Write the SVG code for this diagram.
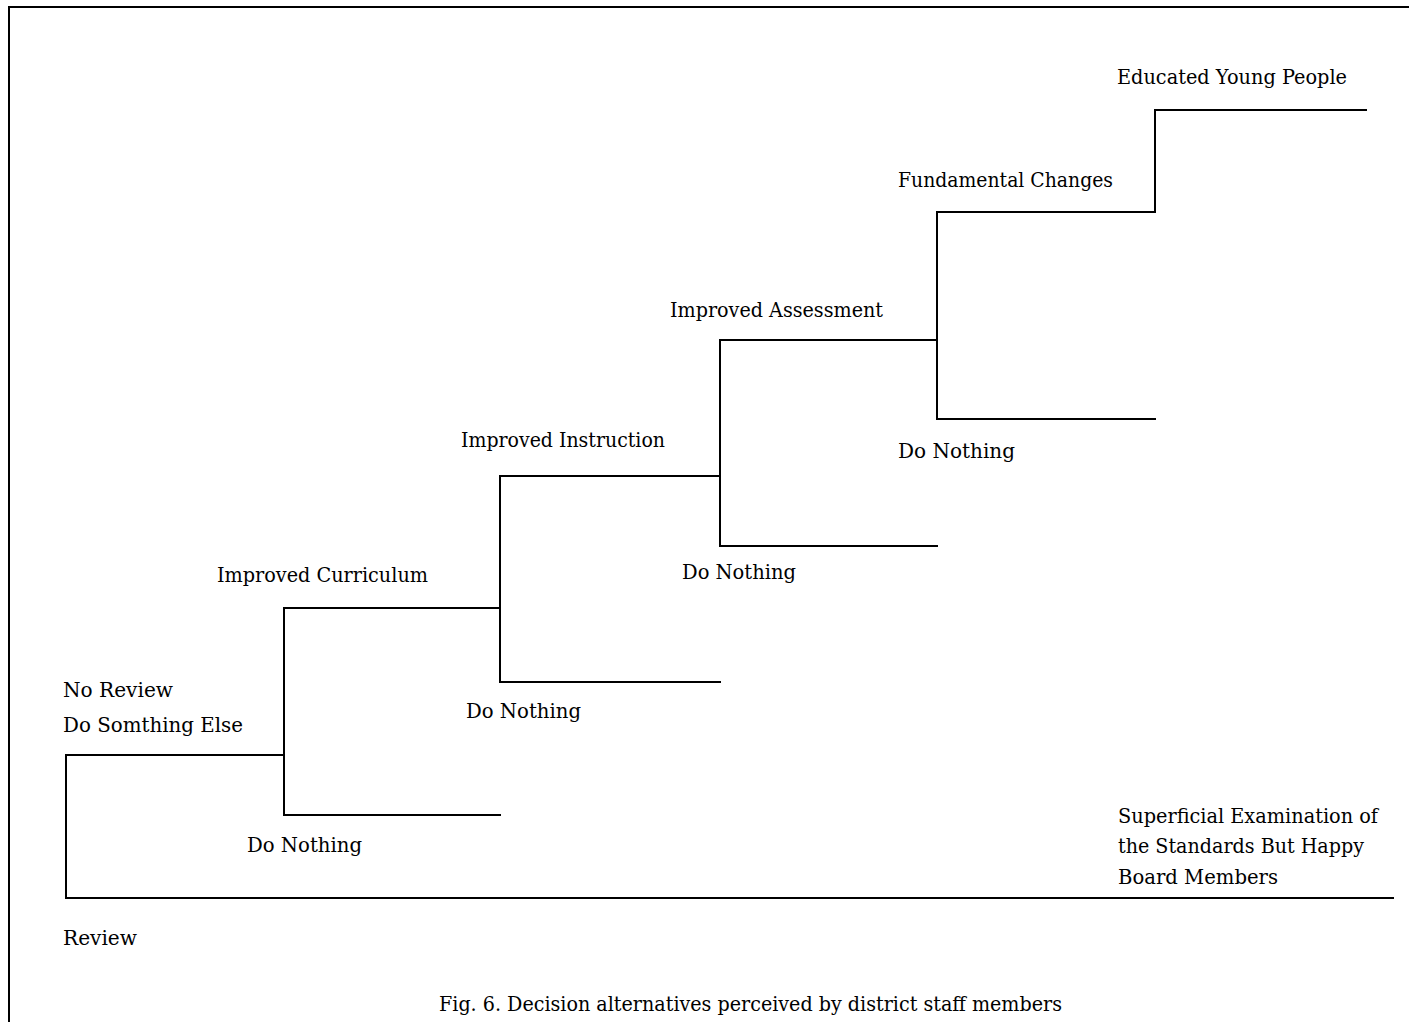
<svg xmlns="http://www.w3.org/2000/svg" width="1409" height="1022" viewBox="0 0 1409 1022">
  <style>
    .frame { fill: none; stroke: #000; stroke-width: 2; }
    .edge { fill: none; stroke: #000; stroke-width: 2; stroke-linecap: square; }
    .lbl { font-family: "DejaVu Serif", "Liberation Serif", serif; font-size: 20px; fill: #000; }
  </style>
  <rect width="1409" height="1022" fill="#fff"/>

  <!-- page frame: top and left rules only -->
  <path class="frame" d="M9,1022 V7 H1409"/>

  <!-- decision tree branches -->
  <g id="connectors">
    <path class="edge" d="M66,898 V755 H284"/>
    <path class="edge" d="M66,898 H1393"/>
    <path class="edge" d="M284,608 V815 H500"/>
    <path class="edge" d="M284,608 H500"/>
    <path class="edge" d="M500,476 V682 H720"/>
    <path class="edge" d="M500,476 H720"/>
    <path class="edge" d="M720,340 V546 H937"/>
    <path class="edge" d="M720,340 H937"/>
    <path class="edge" d="M937,212 V419 H1155"/>
    <path class="edge" d="M937,212 H1155"/>
    <path class="edge" d="M1155,110 V212"/>
    <path class="edge" d="M1155,110 H1366"/>
  </g>

  <g id="review">
    <text class="lbl" x="63" y="945" textLength="74" lengthAdjust="spacingAndGlyphs">Review</text>
  </g>
  <g id="no-review">
    <text class="lbl" x="63" y="697" textLength="110" lengthAdjust="spacingAndGlyphs">No Review</text>
    <text class="lbl" x="63" y="732" textLength="180" lengthAdjust="spacingAndGlyphs">Do Somthing Else</text>
  </g>
  <g id="superficial">
    <text class="lbl" x="1118" y="823" textLength="260" lengthAdjust="spacingAndGlyphs">Superficial Examination of</text>
    <text class="lbl" x="1118" y="853" textLength="246" lengthAdjust="spacingAndGlyphs">the Standards But Happy</text>
    <text class="lbl" x="1118" y="884" textLength="160" lengthAdjust="spacingAndGlyphs">Board Members</text>
  </g>
  <g id="curriculum">
    <text class="lbl" x="217" y="582" textLength="211" lengthAdjust="spacingAndGlyphs">Improved Curriculum</text>
  </g>
  <g id="nothing-1">
    <text class="lbl" x="247" y="852" textLength="115" lengthAdjust="spacingAndGlyphs">Do Nothing</text>
  </g>
  <g id="instruction">
    <text class="lbl" x="461" y="447" textLength="204" lengthAdjust="spacingAndGlyphs">Improved Instruction</text>
  </g>
  <g id="nothing-2">
    <text class="lbl" x="466" y="718" textLength="115" lengthAdjust="spacingAndGlyphs">Do Nothing</text>
  </g>
  <g id="assessment">
    <text class="lbl" x="670" y="317" textLength="213" lengthAdjust="spacingAndGlyphs">Improved Assessment</text>
  </g>
  <g id="nothing-3">
    <text class="lbl" x="682" y="579" textLength="114" lengthAdjust="spacingAndGlyphs">Do Nothing</text>
  </g>
  <g id="fundamental">
    <text class="lbl" x="898" y="187" textLength="215" lengthAdjust="spacingAndGlyphs">Fundamental Changes</text>
  </g>
  <g id="nothing-4">
    <text class="lbl" x="898" y="458" textLength="117" lengthAdjust="spacingAndGlyphs">Do Nothing</text>
  </g>
  <g id="educated">
    <text class="lbl" x="1117" y="84" textLength="230" lengthAdjust="spacingAndGlyphs">Educated Young People</text>
  </g>

  <g id="caption">
    <text class="lbl" x="439" y="1011" textLength="623" lengthAdjust="spacingAndGlyphs">Fig. 6. Decision alternatives perceived by district staff members</text>
  </g>
</svg>
